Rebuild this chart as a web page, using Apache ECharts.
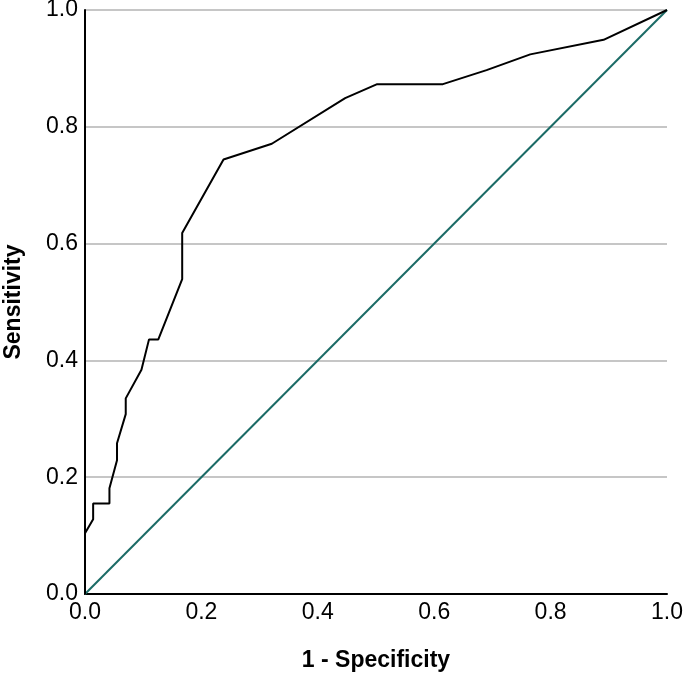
<!DOCTYPE html>
<html>
<head>
<meta charset="utf-8">
<script src="https://cdn.jsdelivr.net/npm/echarts@6/dist/echarts.min.js"></script>
<style>
html,body{margin:0;padding:0;background:#fff;}
#c{width:685px;height:676px;}
</style>
</head>
<body>
<div id="c"></div>
<script>
// ROC curve points (1 - Specificity, Sensitivity)
const fpr = [0, 0, 0.014, 0.014, 0.042, 0.042, 0.055, 0.055, 0.070, 0.070, 0.097, 0.110, 0.126, 0.167, 0.167, 0.238, 0.321, 0.447, 0.502, 0.615, 0.690, 0.765, 0.891, 1.0];
const tpr = [0, 0.104, 0.128, 0.155, 0.155, 0.181, 0.229, 0.258, 0.308, 0.335, 0.384, 0.436, 0.436, 0.539, 0.618, 0.744, 0.771, 0.849, 0.873, 0.873, 0.897, 0.924, 0.949, 1.0];
// Reference (chance) line
const refX = [0, 1];
const refY = [0, 1];
const xTicks = [0, 0.2, 0.4, 0.6, 0.8, 1.0];
const yTicks = [0, 0.2, 0.4, 0.6, 0.8, 1.0];
const xName = '1 - Specificity';
const yName = 'Sensitivity';

const FONT = '"Liberation Sans", Arial, Helvetica, sans-serif';
const chart = echarts.init(document.getElementById('c'), null, {renderer: 'canvas'});
chart.setOption({
  animation: false,
  backgroundColor: '#ffffff',
  grid: {left: 85, right: 18, top: 10, bottom: 82, containLabel: false, outerBoundsMode: 'none'},
  xAxis: {
    type: 'value', min: xTicks[0], max: xTicks[xTicks.length - 1], interval: 0.2,
    name: xName, nameLocation: 'middle', nameGap: 55,
    nameTextStyle: {fontFamily: FONT, fontSize: 23, fontWeight: 'bold', color: '#000'},
    axisLine: {show: true, lineStyle: {color: '#000', width: 2}},
    axisTick: {show: false},
    axisLabel: {fontFamily: FONT, fontSize: 23, color: '#000', margin: 7,
      formatter: v => v.toFixed(1)},
    splitLine: {show: false}
  },
  yAxis: {
    type: 'value', min: yTicks[0], max: yTicks[yTicks.length - 1], interval: 0.2,
    name: yName, nameLocation: 'middle', nameGap: 60, nameRotate: 90,
    nameTextStyle: {fontFamily: FONT, fontSize: 23, fontWeight: 'bold', color: '#000'},
    axisLine: {show: true, lineStyle: {color: '#000', width: 2}},
    axisTick: {show: false},
    axisLabel: {fontFamily: FONT, fontSize: 23, color: '#000', margin: 7,
      formatter: v => v.toFixed(1)},
    splitLine: {show: true, lineStyle: {color: '#b3b3b3', width: 1.5}}
  },
  series: [
    {
      type: 'line', data: refX.map((x, i) => [x, refY[i]]),
      symbol: 'none', lineStyle: {color: '#1b6b66', width: 2}, z: 3
    },
    {
      type: 'line', data: fpr.map((x, i) => [x, tpr[i]]),
      symbol: 'none', lineStyle: {color: '#000000', width: 2}, z: 4
    }
  ]
});
</script>
</body>
</html>
